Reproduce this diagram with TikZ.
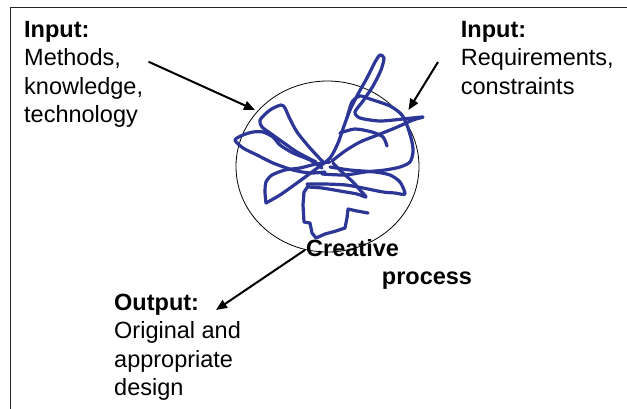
\documentclass[tikz,border=0pt]{standalone}
\usepackage{fontspec}
\setmainfont{Liberation Sans}
\usetikzlibrary{arrows.meta,shapes.geometric}
\definecolor{scrib}{RGB}{44,54,150}
\begin{document}
\begin{tikzpicture}[x=1pt,y=-1pt,
  txt/.style={inner sep=0pt, anchor=base west, font=\fontsize{23.5}{28.4}\selectfont},
  arr/.style={line width=2pt, -{Triangle[length=11pt,width=9pt]}},
  scribble/.style={scrib, line width=3.2pt, line cap=round, line join=round},
  frame/.style={line width=1.4pt, black!85}]
\useasboundingbox (0,0) rectangle (627,408);
% frame
\draw[frame] (10.5,410) -- (10.5,7.5) -- (630,7.5);
% process circle
\node[draw, ellipse, line width=0.8pt, minimum width=183pt, minimum height=171pt, inner sep=0pt] (proc) at (327.5,166.5) {};
% scribble
\begin{scope}[scribble]
\draw plot[smooth, tension=0.45] coordinates {(266,203) (280,195) (297,183) (316,169) (330,158) (338,143) (344,126) (350,110) (358,94) (367,78) (375,62) (380,55) (384,58) (381,70) (373,86) (363,101) (355,112) (360,118) (380,121) (403,119) (423,117) (413,120) (395,128) (375,136) (360,142) (345,151) (332,161)};
\draw plot[smooth, tension=0.45] coordinates {(347,118) (352,102) (360,96) (370,99) (390,106) (402,115) (408,128) (412,142) (413,152) (410,162) (400,167) (385,170) (365,172) (345,175) (322,174)};
\draw plot[smooth, tension=0.45] coordinates {(340,133) (355,129) (372,132) (383,137) (387,146)};
\draw plot[smooth, tension=0.45] coordinates {(322,168) (310,160) (293,153) (280,145) (273,137) (263,132) (253,132) (243,135) (235,140) (243,148) (257,155) (273,163) (293,170) (310,173) (325,172)};
\draw plot[smooth, tension=0.45] coordinates {(323,162) (310,148) (297,132) (289,117) (285,108) (281,105) (270,110) (260,120) (262,127) (270,133) (284,143) (297,152) (316,162)};
\draw plot[smooth, tension=0.45] coordinates {(330,162) (316,164) (300,168) (285,170) (272,175) (266,182) (265,192) (266,203)};
\draw plot[smooth, tension=0.45] coordinates {(330,167) (350,170) (375,172) (390,175) (400,182) (405,194) (395,193) (383,192) (363,188) (346,185) (325,184) (307,184)};
\draw plot[smooth, tension=0.45] coordinates {(333,163) (343,173) (353,182) (360,190) (366,197) (357,194) (340,191) (322,188) (308,187)};
\draw (308,186) -- (304,192) -- (303,205) -- (304,222) -- (310,223) -- (312,233) -- (316,238) -- (325,234) -- (336,231) -- (345,228) -- (347,218) -- (348,209) -- (357,211) -- (368,213);
\end{scope}
% texts
\node[txt] (inL) at (24,37.3) {\begin{tabular}[t]{@{}l@{}}\textbf{Input:}\\Methods,\\knowledge,\\technology\end{tabular}};
\node[txt] (inR) at (460.7,37.3) {\begin{tabular}[t]{@{}l@{}}\textbf{Input:}\\Requirements,\\constraints\end{tabular}};
\node[txt] (out) at (114,310.5) {\begin{tabular}[t]{@{}l@{}}\textbf{Output:}\\Original and\\appropriate\\design\end{tabular}};
% arrows
\coordinate (aL) at (148.5,61.7);
\coordinate (tL) at (255,110);
\coordinate (aR) at (438,62);
\coordinate (tR) at (408.5,110);
\coordinate (tO) at (216,310);
\draw[arr] (aL) -- (tL);
\draw[arr] (aR) -- (tR);
\draw[arr] (proc.255) -- (tO);
\node[txt, font=\fontsize{23.5}{28.4}\selectfont\bfseries] (cre) at (306,256.7) {Creative};
\node[txt, font=\fontsize{23.5}{28.4}\selectfont\bfseries] (pro) at (381.7,284.5) {process};
\end{tikzpicture}
\end{document}
